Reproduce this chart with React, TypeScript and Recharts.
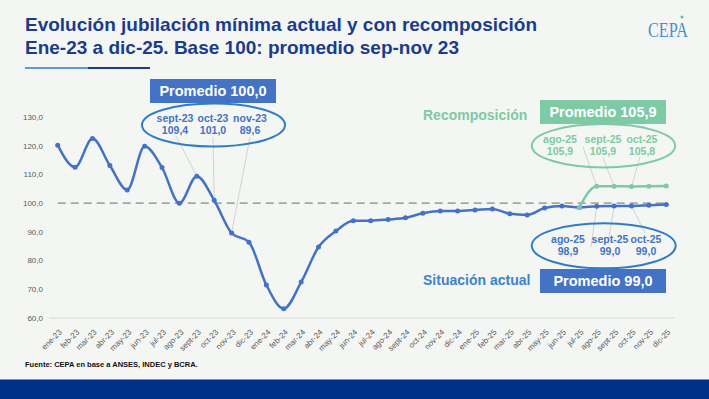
import React from 'react';
import { LineChart, Line, XAxis, YAxis, ReferenceLine, ReferenceDot } from 'recharts';

const months = [
  'ene-23', 'feb-23', 'mar-23', 'abr-23', 'may-23', 'jun-23', 'jul-23', 'ago-23', 'sept-23', 'oct-23', 'nov-23', 'dic-23',
  'ene-24', 'feb-24', 'mar-24', 'abr-24', 'may-24', 'jun-24', 'jul-24', 'ago-24', 'sept-24', 'oct-24', 'nov-24', 'dic-24',
  'ene-25', 'feb-25', 'mar-25', 'abr-25', 'may-25', 'jun-25', 'jul-25', 'ago-25', 'sept-25', 'oct-25', 'nov-25', 'dic-25'
];

// situacion actual (base 100 = promedio sep-nov 23)
const actual = [
  120.2, 112.5, 122.5, 113.1, 104.6, 119.8, 112.4, 100.0, 109.4, 101.0, 89.6, 86.4,
  71.5, 63.2, 72.5, 84.7, 90.3, 93.9, 93.9, 94.3, 94.9, 96.5, 97.3, 97.3,
  97.6, 98.0, 96.3, 95.9, 98.3, 99.0, 98.5, 98.9, 99.0, 99.0, 99.3, 99.5
];

// con recomposicion, desde jul-25
const recomp = [
  null, null, null, null, null, null, null, null, null, null, null, null,
  null, null, null, null, null, null, null, null, null, null, null, null,
  null, null, null, null, null, null, 98.5, 105.9, 105.9, 105.8, 105.9, 106.0
];

const yTicks = [60, 70, 80, 90, 100, 110, 120, 130];
const baseLine = 100;

const data = months.map((m, i) => ({ month: m, actual: actual[i], recomp: recomp[i] }));

const BLUE = '#4472C4';
const GREEN = '#7DCAA5';
const NAVY = '#1B3C8C';
const RING_BLUE = '#2E7DC6';

const fmt = (v: number) => v.toFixed(1).replace('.', ',');

// leader lines: from data point to label (label anchor in px)
const leaders = [
  { month: 'sept-23', key: 'actual', tx: 176, ty: 136 },
  { month: 'oct-23', key: 'actual', tx: 213, ty: 137 },
  { month: 'nov-23', key: 'actual', tx: 250, ty: 137 },
  { month: 'ago-25', key: 'recomp', tx: 583, ty: 147 },
  { month: 'sept-25', key: 'recomp', tx: 603, ty: 158 },
  { month: 'oct-25', key: 'recomp', tx: 640, ty: 157 },
  { month: 'ago-25', key: 'actual', tx: 591, ty: 247 },
  { month: 'sept-25', key: 'actual', tx: 609, ty: 237 },
  { month: 'oct-25', key: 'actual', tx: 645, ty: 233 },
];

const valueOf = (month: string, key: string) => {
  const i = months.indexOf(month);
  return key === 'actual' ? actual[i] : (recomp[i] as number);
};

const XTick = (props: any) => {
  const { x, y, payload } = props;
  return (
    <g transform={`translate(${x + 3},${y + 5})`}>
      <text transform="rotate(-45)" textAnchor="end" dy="0.3em" fontSize={8} fill="#595959">
        {payload.value}
      </text>
    </g>
  );
};

const Bubble = ({ cx, cy, rx, ry, stroke, color, items }: any) => (
  <g>
    <ellipse cx={cx} cy={cy} rx={rx} ry={ry} fill="none" stroke={stroke} strokeWidth={2} />
    {items.map((it: any) => (
      <g key={it.label}>
        <text x={it.x} y={cy - 3} textAnchor="middle" fontSize={10.5} fontWeight="bold" fill={color}>{it.label}</text>
        <text x={it.x} y={cy + 9} textAnchor="middle" fontSize={10.5} fontWeight="bold" fill={color}>{fmt(valueOf(it.label, it.key))}</text>
      </g>
    ))}
  </g>
);

const Box = ({ x, y, w, h, fill, text }: any) => (
  <g>
    <rect x={x} y={y} width={w} height={h} fill={fill} />
    <text x={x + w / 2} y={y + h / 2 + 5} textAnchor="middle" fontSize={14.5} fontWeight="bold" fill="#fff">{text}</text>
  </g>
);

export default function App() {
  return (
    <div style={{ position: 'absolute', left: 0, top: 0, width: 709, height: 399, background: '#F4F6F4', fontFamily: '"Liberation Sans", Arial, sans-serif', overflow: 'hidden' }}>
      <div style={{ position: 'absolute', left: 0, top: 0 }}>
        <LineChart width={709} height={399} data={data} margin={{ top: 117, right: 34, bottom: 51, left: 0 }}>
          <XAxis
            dataKey="month"
            interval={0}
            padding={{ left: 8.7, right: 8.7 }}
            height={30}
            tick={<XTick />}
            tickLine={false}
            axisLine={{ stroke: '#d9d9d9' }}
          />
          <YAxis
            width={49}
            domain={[60, 130]}
            ticks={yTicks}
            tickFormatter={fmt}
            axisLine={false}
            tickLine={false}
            tickSize={0}
            tickMargin={6}
            tick={{ fontSize: 8, fill: '#595959' }}
          />
          <ReferenceLine
            segment={[{ x: months[0], y: baseLine }, { x: months[months.length - 1], y: baseLine }]}
            stroke="#A6A6A6"
            strokeWidth={1.8}
            strokeDasharray="8 5"
          />
          {leaders.map((l, i) => (
            <ReferenceDot
              key={i}
              x={l.month}
              y={valueOf(l.month, l.key)}
              r={0}
              shape={(p: any) => <line x1={p.cx} y1={p.cy} x2={l.tx} y2={l.ty} stroke="#C8C8C8" strokeWidth={0.8} />}
            />
          ))}
          <Line
            type="monotone"
            dataKey="actual"
            stroke={BLUE}
            strokeWidth={2.5}
            dot={{ r: 2.5, fill: BLUE, strokeWidth: 0 }}
            isAnimationActive={false}
          />
          <Line
            type="monotone"
            dataKey="recomp"
            stroke={GREEN}
            strokeWidth={2.5}
            dot={{ r: 2.5, fill: GREEN, strokeWidth: 0 }}
            connectNulls={false}
            isAnimationActive={false}
          />
        </LineChart>
      </div>
      <svg width={709} height={399} style={{ position: 'absolute', left: 0, top: 0, pointerEvents: 'none' }}>
        <text x={25} y={31} fontSize={19} fontWeight="bold" fill={NAVY}>Evolución jubilación mínima actual y con recomposición</text>
        <text x={25} y={54} fontSize={19} fontWeight="bold" fill={NAVY}>Ene-23 a dic-25. Base 100: promedio sep-nov 23</text>
        <rect x={25} y={67} width={63} height={2} fill="#5B9BD5" />
        <rect x={88} y={67} width={62} height={2} fill="#1F3C88" />
        <text x={648} y={37} fontSize={21} fill="#4A8FD1" fontFamily='"Liberation Serif", serif' textLength={40} lengthAdjust="spacingAndGlyphs">CEPA</text>
        <circle cx={682} cy={17} r={1.5} fill="#5BC0B0" />

        <Box x={150} y={79} w={126} h={24} fill={BLUE} text="Promedio 100,0" />
        <Bubble cx={213.5} cy={125} rx={71.5} ry={21.5} stroke={RING_BLUE} color={BLUE}
          items={[{ label: 'sept-23', key: 'actual', x: 175 }, { label: 'oct-23', key: 'actual', x: 213 }, { label: 'nov-23', key: 'actual', x: 250 }]} />

        <text x={423} y={120} fontSize={14} fontWeight="bold" fill={GREEN}>Recomposición</text>
        <Box x={540} y={100} w={126} h={24} fill={GREEN} text="Promedio 105,9" />
        <Bubble cx={603.5} cy={145.7} rx={71.7} ry={21.7} stroke={GREEN} color={GREEN}
          items={[{ label: 'ago-25', key: 'recomp', x: 560 }, { label: 'sept-25', key: 'recomp', x: 603 }, { label: 'oct-25', key: 'recomp', x: 642 }]} />

        <Bubble cx={603.7} cy={245.8} rx={72} ry={22.5} stroke={RING_BLUE} color={BLUE}
          items={[{ label: 'ago-25', key: 'actual', x: 568 }, { label: 'sept-25', key: 'actual', x: 610 }, { label: 'oct-25', key: 'actual', x: 646 }]} />
        <text x={423} y={285} fontSize={14} fontWeight="bold" fill="#3B84C8">Situación actual</text>
        <Box x={540} y={269} w={126} h={24} fill={BLUE} text="Promedio 99,0" />

        <text x={25} y={367} fontSize={7.5} fontWeight="bold" fill="#111">Fuente: CEPA en base a ANSES, INDEC y BCRA.</text>
        <rect x={0} y={379} width={709} height={1} fill="#6F8FC7" />
        <rect x={0} y={380} width={709} height={19} fill="#003189" />
      </svg>
    </div>
  );
}
